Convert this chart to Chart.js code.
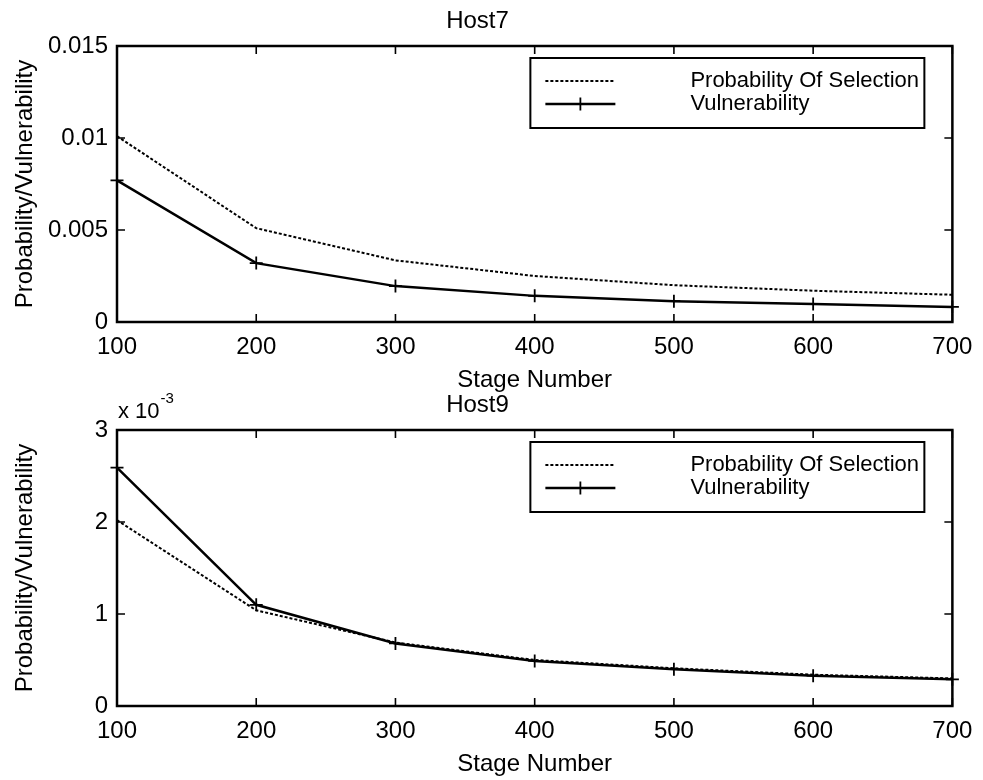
<!DOCTYPE html>
<html>
<head>
<meta charset="utf-8">
<title>Host7 / Host9</title>
<script src="https://cdn.jsdelivr.net/npm/chart.js@4.4.1/dist/chart.umd.min.js"></script>
<style>
  html, body { margin: 0; padding: 0; background: #fff; }
  body { width: 983px; height: 780px; position: relative; overflow: hidden; }
  .panel { position: absolute; left: 0; width: 983px; height: 396px; }
</style>
</head>
<body>
<div class="panel" style="top:0"><canvas id="host7" width="983" height="396"></canvas></div>
<div class="panel" style="top:384px"><canvas id="host9" width="983" height="396"></canvas></div>
<script>
// stage numbers along the x axis
const stages = [100, 200, 300, 400, 500, 600, 700];
const stageTicks = [100, 200, 300, 400, 500, 600, 700];

// Host7 series
const host7Prob = [0.0101, 0.0051, 0.00335, 0.0025, 0.0020, 0.0017, 0.00148];
const host7Vuln = [0.0077, 0.0032, 0.00195, 0.00142, 0.00113, 0.00098, 0.00082];
const host7TickValues = [0, 0.005, 0.01, 0.015];
const host7TickLabels = ["0", "0.005", "0.01", "0.015"];

// Host9 series (axis labelled in units of 1e-3)
const host9Prob = [0.00202, 0.00104, 0.00069, 0.00050, 0.00041, 0.00034, 0.00030];
const host9Vuln = [0.00259, 0.00110, 0.00068, 0.00049, 0.00040, 0.00033, 0.00029];
const host9TickValues = [0, 0.001, 0.002, 0.003];
const host9TickLabels = ["0", "1", "2", "3"];

const seriesNames = ["Probability Of Selection", "Vulnerability"];

const FONT = "'Liberation Sans', Arial, Helvetica, sans-serif";
const font24 = { family: FONT, size: 24 };

// axes box with inward tick marks on all four sides
const frameTicks = {
  id: "frameTicks",
  beforeDatasetsDraw(chart) {
    const { ctx, chartArea: a, scales } = chart;
    ctx.save();
    ctx.strokeStyle = "#000";
    ctx.lineWidth = 2.5;
    ctx.strokeRect(a.left, a.top, a.right - a.left, a.bottom - a.top);
    ctx.lineWidth = 1.6;
    ctx.beginPath();
    scales.x.ticks.forEach(t => {
      const px = scales.x.getPixelForValue(t.value);
      ctx.moveTo(px, a.bottom); ctx.lineTo(px, a.bottom - 8);
      ctx.moveTo(px, a.top); ctx.lineTo(px, a.top + 8);
    });
    scales.y.ticks.forEach(t => {
      const py = scales.y.getPixelForValue(t.value);
      ctx.moveTo(a.left, py); ctx.lineTo(a.left + 8, py);
      ctx.moveTo(a.right, py); ctx.lineTo(a.right - 8, py);
    });
    ctx.stroke();
    ctx.restore();
  }
};

// boxed legend in the upper right of the plot area
const boxLegend = {
  id: "boxLegend",
  afterDatasetsDraw(chart) {
    const { ctx, chartArea: a } = chart;
    const w = 394, h = 70;
    const x0 = a.right - 422, y0 = a.top + 12;
    ctx.save();
    ctx.fillStyle = "#fff";
    ctx.fillRect(x0, y0, w, h);
    ctx.strokeStyle = "#000";
    ctx.lineWidth = 2;
    ctx.strokeRect(x0, y0, w, h);
    chart.data.datasets.forEach((ds, i) => {
      const y = y0 + 23 + i * 23;
      ctx.lineWidth = ds.borderWidth;
      ctx.setLineDash(ds.borderDash || []);
      ctx.beginPath();
      ctx.moveTo(x0 + 15, y);
      ctx.lineTo(x0 + 85, y);
      ctx.stroke();
      ctx.setLineDash([]);
      if (ds.pointStyle === "cross") {
        ctx.lineWidth = ds.pointBorderWidth;
        ctx.beginPath();
        ctx.moveTo(x0 + 50, y - ds.pointRadius);
        ctx.lineTo(x0 + 50, y + ds.pointRadius);
        ctx.stroke();
      }
      ctx.fillStyle = "#000";
      ctx.font = "22px " + FONT;
      ctx.textBaseline = "middle";
      ctx.fillText(ds.label, x0 + 160, y);
    });
    ctx.restore();
  }
};

// "x 10^-3" multiplier above the y axis
const axisExponent = {
  id: "axisExponent",
  afterDraw(chart, args, opts) {
    if (!opts.exp) return;
    const { ctx, chartArea: a } = chart;
    ctx.save();
    ctx.fillStyle = "#000";
    ctx.textBaseline = "alphabetic";
    ctx.font = "22px " + FONT;
    ctx.fillText(opts.base, a.left + 1, a.top - 12);
    const bw = ctx.measureText(opts.base).width;
    ctx.font = "15px " + FONT;
    ctx.fillText(opts.exp, a.left + 1 + bw + 1, a.top - 27);
    ctx.restore();
  }
};

function makeChart(id, title, prob, vuln, tickValues, tickLabels, exp) {
  return new Chart(document.getElementById(id), {
    type: "line",
    data: {
      datasets: [
        {
          label: seriesNames[0],
          data: stages.map((s, i) => ({ x: s, y: prob[i] })),
          borderColor: "#000",
          borderWidth: 2,
          borderDash: [3, 2],
          pointRadius: 0,
          tension: 0,
          fill: false
        },
        {
          label: seriesNames[1],
          data: stages.map((s, i) => ({ x: s, y: vuln[i] })),
          borderColor: "#000",
          borderWidth: 2.5,
          pointStyle: "cross",
          pointRadius: 6.5,
          pointBorderWidth: 1.8,
          pointBorderColor: "#000",
          pointBackgroundColor: "#000",
          tension: 0,
          fill: false,
          clip: false
        }
      ]
    },
    options: {
      responsive: false,
      animation: false,
      layout: { padding: { left: 0, right: 28, top: 0, bottom: 1.6 } },
      plugins: {
        legend: { display: false },
        tooltip: { enabled: false },
        title: {
          display: true,
          text: title,
          color: "#000",
          font: { family: FONT, size: 24, weight: "normal" },
          padding: { top: 7.1, bottom: 10.1 }
        },
        axisExponent: exp || {}
      },
      scales: {
        x: {
          type: "linear",
          min: 100,
          max: 700,
          afterBuildTicks: s => { s.ticks = stageTicks.map(v => ({ value: v })); },
          afterFit: s => { s.height = 72.4; },
          grid: { display: false, drawTicks: false },
          border: { display: false },
          ticks: { color: "#000", font: font24, padding: 10.6, maxRotation: 0, callback: v => String(v) },
          title: { display: true, text: "Stage Number", color: "#000", font: font24, padding: { top: 0, bottom: 0 } }
        },
        y: {
          min: tickValues[0],
          max: tickValues[tickValues.length - 1],
          afterBuildTicks: s => { s.ticks = tickValues.map(v => ({ value: v })); },
          afterFit: s => { s.width = 117; },
          grid: { display: false, drawTicks: false },
          border: { display: false },
          ticks: { color: "#000", font: font24, padding: 9, callback: (v, i) => tickLabels[i] },
          title: { display: true, text: "Probability/Vulnerability", color: "#000", font: font24, padding: { top: 10.6, bottom: 0 } }
        }
      }
    },
    plugins: [frameTicks, boxLegend, axisExponent]
  });
}

makeChart("host7", "Host7", host7Prob, host7Vuln, host7TickValues, host7TickLabels);
makeChart("host9", "Host9", host9Prob, host9Vuln, host9TickValues, host9TickLabels, { base: "x 10", exp: "-3" });
</script>
</body>
</html>
